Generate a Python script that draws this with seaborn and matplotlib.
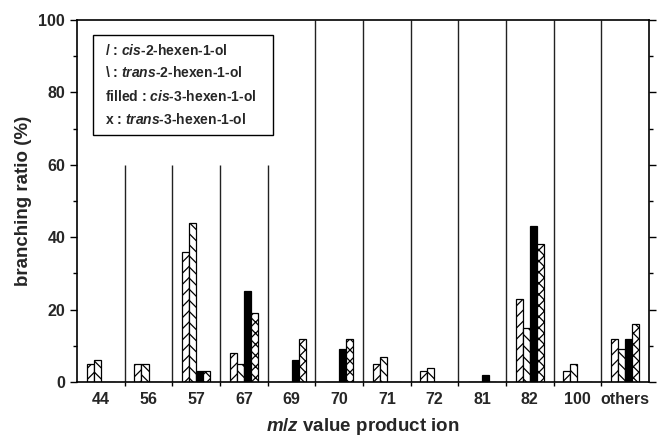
import matplotlib
matplotlib.use("Agg")
import matplotlib.pyplot as plt
from matplotlib.patches import Rectangle
from matplotlib.ticker import MultipleLocator, FixedLocator
import numpy as np
import pandas as pd
import seaborn as sns

# product ions (m/z) and branching ratios (%) for each hexenol isomer
ions = ["44", "56", "57", "67", "69", "70", "71", "72", "81", "82", "100", "others"]
cis2_hexenol = [5, 5, 36, 8, 0, 0, 5, 3, 0, 23, 3, 12]
trans2_hexenol = [6, 5, 44, 5, 0, 0, 7, 4, 0, 15, 5, 9]
cis3_hexenol = [0, 0, 3, 25, 6, 9, 0, 0, 2, 43, 0, 12]
trans3_hexenol = [0, 0, 3, 19, 12, 12, 0, 0, 0, 38, 0, 16]

isomers = ["cis-2-hexen-1-ol", "trans-2-hexen-1-ol", "cis-3-hexen-1-ol", "trans-3-hexen-1-ol"]
series = [cis2_hexenol, trans2_hexenol, cis3_hexenol, trans3_hexenol]

df = pd.DataFrame({
    "ion": np.repeat([ions], len(isomers), axis=0).ravel(),
    "isomer": np.repeat(isomers, len(ions)),
    "ratio": np.concatenate(series),
})

sns.set_theme(style="white")
plt.rcParams["font.family"] = ["Liberation Sans", "DejaVu Sans"]
plt.rcParams["font.weight"] = "bold"
plt.rcParams["mathtext.fontset"] = "custom"
plt.rcParams["mathtext.it"] = "Liberation Sans:italic:bold"
plt.rcParams["mathtext.rm"] = "Liberation Sans:bold"
plt.rcParams["hatch.linewidth"] = 0.9

fig = plt.figure(figsize=(6.6, 4.43), dpi=100)
ax = fig.add_axes([0.1167, 0.1377, 0.8666, 0.8172])

sns.barplot(data=df, x="ion", y="ratio", hue="isomer", order=ions,
            hue_order=isomers, width=0.59, palette=["white"] * 4,
            edgecolor="black", linewidth=0.9, legend=False, ax=ax)

# hatch style per isomer
styles = [("white", "///"), ("white", "\\\\\\"), ("black", ""), ("white", "xxx")]
for container, (fc, hatch) in zip(ax.containers, styles):
    for bar in container:
        bar.set_facecolor(fc)
        bar.set_hatch(hatch)
        bar.set_edgecolor("black")

# separators between ion groups (short ones stay below the key box)
n = len(ions)
bounds = np.arange(n - 1) + 0.5
tops = [60 if b < 4 else 100 for b in bounds]
ax.vlines(bounds, 0, tops, colors="#222222", linewidth=1.0)

ax.set_xlim(-0.5, n - 0.5)
ax.set_ylim(0, 100)
ax.yaxis.set_major_locator(MultipleLocator(20))
ax.yaxis.set_minor_locator(MultipleLocator(10))
ax.xaxis.set_minor_locator(FixedLocator(bounds))
ax.tick_params(axis="y", which="both", direction="out", left=True, right=True,
               labelright=False, width=1, labelsize=11.5, color="black")
ax.tick_params(axis="y", which="major", length=5)
ax.tick_params(axis="y", which="minor", length=3)
ax.tick_params(axis="x", which="major", length=0, labelsize=11.5, pad=7)
ax.tick_params(axis="x", which="minor", length=3, width=1, direction="out",
               bottom=True, color="black")
for lbl in ax.get_xticklabels() + ax.get_yticklabels():
    lbl.set_fontweight("bold")

for s in ax.spines.values():
    s.set_visible(True)
    s.set_color("black")
    s.set_linewidth(1.2)

ax.set_xlabel(r"$\mathit{m/z}$ value product ion", fontsize=13.5,
              fontweight="bold", labelpad=7)
ax.set_ylabel("branching ratio (%)", fontsize=13.5, fontweight="bold", labelpad=5)

# key box
ax.add_patch(Rectangle((0.028, 0.682), 0.315, 0.277, transform=ax.transAxes,
                       fill=False, edgecolor="black", linewidth=1.0, zorder=5))
key_lines = [
    r"/ : $\mathit{cis}$-2-hexen-1-ol",
    r"\ : $\mathit{trans}$-2-hexen-1-ol",
    r"filled : $\mathit{cis}$-3-hexen-1-ol",
    r"x : $\mathit{trans}$-3-hexen-1-ol",
]
for yk, txt in zip([0.917, 0.854, 0.788, 0.724], key_lines):
    ax.text(0.049, yk, txt, transform=ax.transAxes, fontsize=10,
            fontweight="bold", va="center", ha="left", zorder=6)

fig.savefig("out.png", dpi=100)
